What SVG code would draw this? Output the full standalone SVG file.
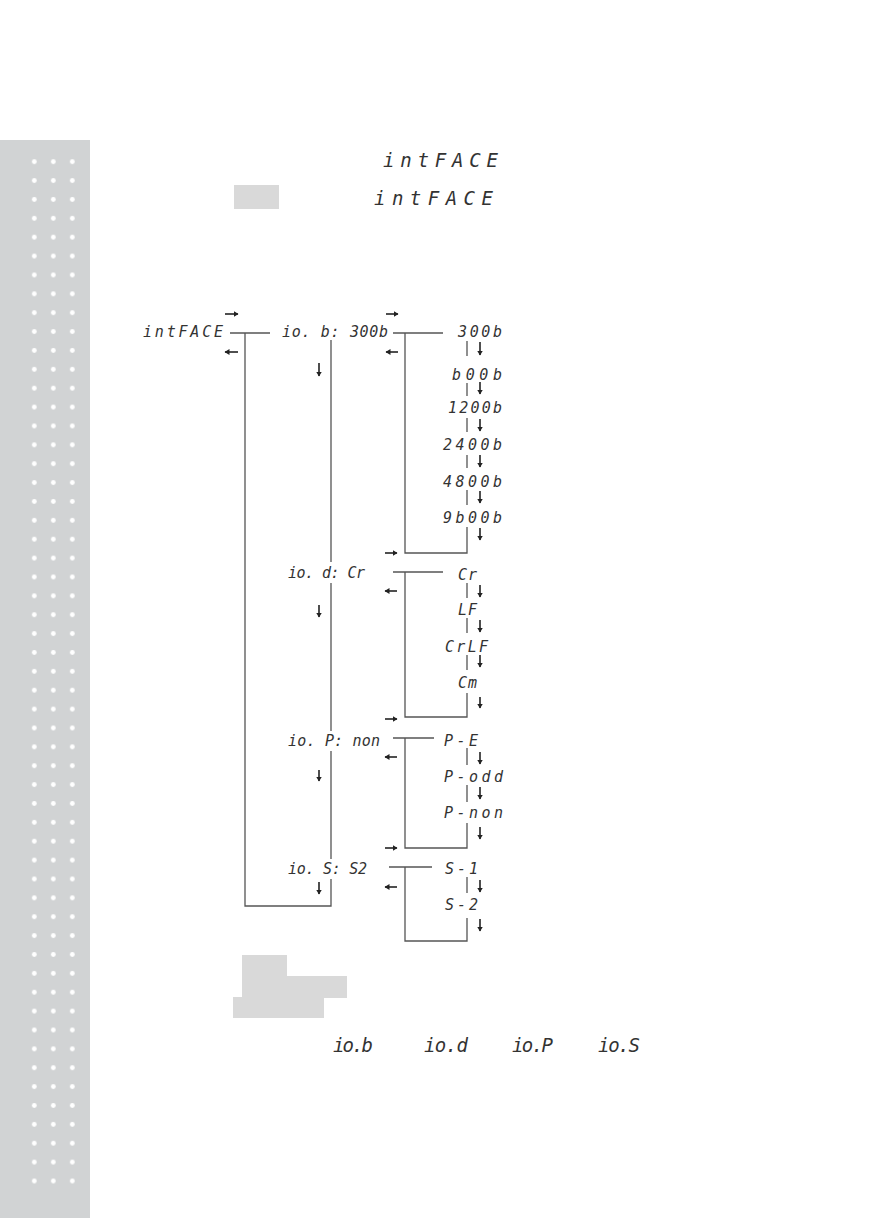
<svg xmlns="http://www.w3.org/2000/svg" width="878" height="1218" viewBox="0 0 878 1218">
<style>
.seg{font-family:"DejaVu Sans Mono","Liberation Mono",monospace;font-style:italic;fill:#333;font-size:15px}
.big{font-size:19px}
.ln{fill:none;stroke:#555;stroke-width:1.3}
.ar{fill:none;stroke:#222;stroke-width:1.6;marker-end:url(#ah)}
.hl{fill:#d9d9d9}
</style>
<defs>
<marker id="ah" markerUnits="userSpaceOnUse" markerWidth="6" markerHeight="6" refX="4.5" refY="3" orient="auto">
<path d="M0,0 L5,3 L0,6 Z" fill="#222"/>
</marker>
<pattern id="dots" patternUnits="userSpaceOnUse" x="24.8" y="152.26" width="19" height="18.876">
<circle cx="9.5" cy="9.438" r="2.4" fill="#ffffff"/>
</pattern>
</defs>
<g id="sidebar">
<rect x="0" y="140" width="90" height="1078" fill="#d1d3d4"/>
<rect x="24.8" y="152.26" width="57" height="1038.2" fill="url(#dots)"/>
</g>
<g id="header">
<text class="seg big" x="383" y="167" textLength="115" lengthAdjust="spacing">intFACE</text>
<rect class="hl" x="234" y="185" width="45" height="24"/>
<text class="seg big" x="374" y="205" textLength="119" lengthAdjust="spacing">intFACE</text>
</g>
<g id="connectors">
<path class="ln" d="M230,333 H270"/>
<path class="ln" d="M245,333 V906 H331 V879"/>
<path class="ln" d="M331,340 V562 M331,583 V731 M331,751 V859"/>
<path class="ln" d="M393,333 H443"/>
<path class="ln" d="M405,333 V553 H467 V527"/>
<path class="ln" d="M467,341 V356 M467,383 V396 M467,418 V432 M467,455 V468 M467,490 V505"/>
<path class="ln" d="M393,572 H443"/>
<path class="ln" d="M405,572 V717 H467 V693"/>
<path class="ln" d="M467,583 V598 M467,618 V633 M467,655 V670"/>
<path class="ln" d="M393,738 H434"/>
<path class="ln" d="M405,738 V848 H467 V823"/>
<path class="ln" d="M467,748 V765 M467,785 V802"/>
<path class="ln" d="M389,867 H432"/>
<path class="ln" d="M405,867 V941 H467 V918"/>
<path class="ln" d="M467,877 V893"/>
<g id="arrows">
<path class="ar" d="M225,314 H238"/>
<path class="ar" d="M238,352 H225"/>
<path class="ar" d="M386,314 H398"/>
<path class="ar" d="M398,352 H386"/>
<path class="ar" d="M319,363 V376"/>
<path class="ar" d="M385,553 H397"/>
<path class="ar" d="M397,591 H385"/>
<path class="ar" d="M319,605 V617"/>
<path class="ar" d="M385,719 H397"/>
<path class="ar" d="M397,757 H385"/>
<path class="ar" d="M319,770 V781"/>
<path class="ar" d="M385,848 H397"/>
<path class="ar" d="M397,887 H385"/>
<path class="ar" d="M319,882 V894"/>
<path class="ar" d="M480,342 V355"/>
<path class="ar" d="M480,382 V394"/>
<path class="ar" d="M480,419 V431"/>
<path class="ar" d="M480,455 V467"/>
<path class="ar" d="M480,491 V503"/>
<path class="ar" d="M480,528 V540"/>
<path class="ar" d="M480,585 V597"/>
<path class="ar" d="M480,620 V632"/>
<path class="ar" d="M480,655 V667"/>
<path class="ar" d="M480,697 V708"/>
<path class="ar" d="M480,752 V764"/>
<path class="ar" d="M480,787 V799"/>
<path class="ar" d="M480,827 V839"/>
<path class="ar" d="M480,880 V892"/>
<path class="ar" d="M480,919 V931"/>
</g>
</g>
<g id="n-intface"><text class="seg" x="143" y="337" textLength="80" lengthAdjust="spacing">intFACE</text></g>
<g id="n-iob"><text class="seg" x="282" y="337" textLength="106" lengthAdjust="spacing">io. b: 300b</text></g>
<g id="n-300b"><text class="seg" x="458" y="337" textLength="44" lengthAdjust="spacing">300b</text></g>
<g id="n-600b"><text class="seg" x="452" y="380" textLength="50" lengthAdjust="spacing">b00b</text></g>
<g id="n-1200b"><text class="seg" x="448" y="413" textLength="54" lengthAdjust="spacing">1200b</text></g>
<g id="n-2400b"><text class="seg" x="443" y="450" textLength="59" lengthAdjust="spacing">2400b</text></g>
<g id="n-4800b"><text class="seg" x="443" y="487" textLength="59" lengthAdjust="spacing">4800b</text></g>
<g id="n-9600b"><text class="seg" x="443" y="523" textLength="59" lengthAdjust="spacing">9b00b</text></g>
<g id="n-iod"><text class="seg" x="288" y="578" textLength="77" lengthAdjust="spacing">io. d: Cr</text></g>
<g id="n-cr"><text class="seg" x="458" y="580" textLength="19" lengthAdjust="spacing">Cr</text></g>
<g id="n-lf"><text class="seg" x="458" y="615" textLength="19" lengthAdjust="spacing">LF</text></g>
<g id="n-crlf"><text class="seg" x="445" y="652" textLength="43" lengthAdjust="spacing">CrLF</text></g>
<g id="n-cm"><text class="seg" x="458" y="688" textLength="19" lengthAdjust="spacing">Cm</text></g>
<g id="n-iop"><text class="seg" x="288" y="746" textLength="92" lengthAdjust="spacing">io. P: non</text></g>
<g id="n-pe"><text class="seg" x="444" y="746" textLength="34" lengthAdjust="spacing">P-E</text></g>
<g id="n-podd"><text class="seg" x="444" y="782" textLength="59" lengthAdjust="spacing">P-odd</text></g>
<g id="n-pnon"><text class="seg" x="444" y="818" textLength="59" lengthAdjust="spacing">P-non</text></g>
<g id="n-ios"><text class="seg" x="288" y="874" textLength="79" lengthAdjust="spacing">io. S: S2</text></g>
<g id="n-s1"><text class="seg" x="445" y="874" textLength="33" lengthAdjust="spacing">S-1</text></g>
<g id="n-s2"><text class="seg" x="445" y="910" textLength="33" lengthAdjust="spacing">S-2</text></g>
<g id="footer">
<rect class="hl" x="242" y="955" width="45" height="22"/>
<rect class="hl" x="242" y="976" width="105" height="22"/>
<rect class="hl" x="233" y="997" width="91" height="21"/>
<text class="seg big" x="333" y="1052" textLength="40" lengthAdjust="spacing">io.b</text>
<text class="seg big" x="424" y="1052" textLength="44" lengthAdjust="spacing">io.d</text>
<text class="seg big" x="512" y="1052" textLength="41" lengthAdjust="spacing">io.P</text>
<text class="seg big" x="598" y="1052" textLength="42" lengthAdjust="spacing">io.S</text>
</g>
</svg>
